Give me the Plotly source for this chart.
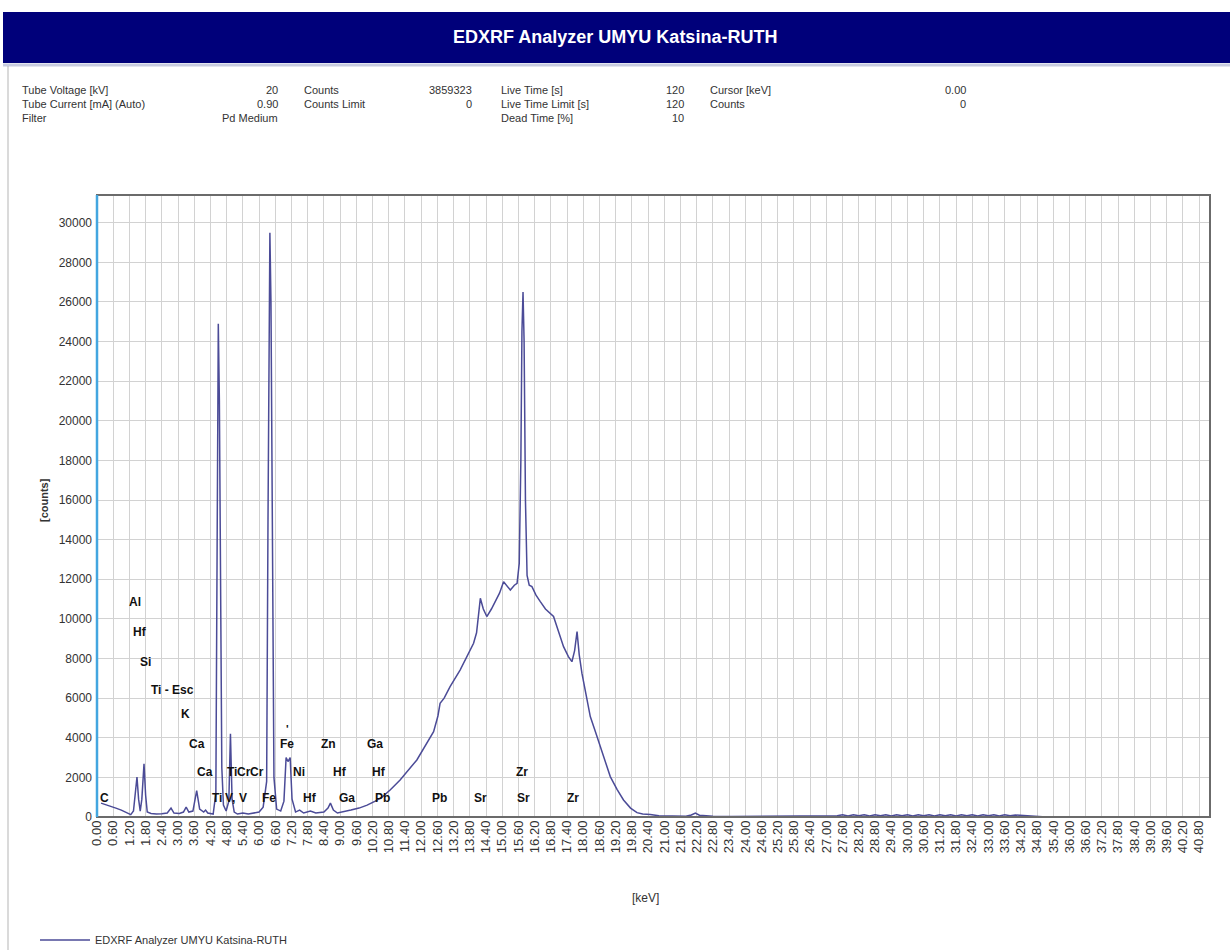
import plotly.graph_objects as go

# ---------------- data ----------------
kev = [0.15, 0.30, 0.50, 0.70, 0.90, 1.10, 1.25, 1.35, 1.42, 1.48, 1.54, 1.60, 1.66, 1.74, 1.80, 1.86,
       2.00, 2.20, 2.40, 2.60, 2.74, 2.85, 3.05, 3.20, 3.30, 3.40, 3.55, 3.69, 3.80, 3.95, 4.02, 4.10,
       4.30, 4.40, 4.45, 4.49, 4.53, 4.57, 4.62, 4.68, 4.78, 4.88, 4.94, 5.00, 5.08, 5.20, 5.40, 5.60,
       5.80, 6.00, 6.15, 6.28, 6.33, 6.37, 6.40, 6.44, 6.49, 6.55, 6.65, 6.80, 6.92, 7.00, 7.07, 7.15,
       7.22, 7.35, 7.50, 7.65, 7.90, 8.10, 8.40, 8.55, 8.64, 8.75, 8.90, 9.10, 9.40, 9.70, 10.00, 10.30,
       10.55, 10.85, 11.22, 11.84, 12.20, 12.46, 12.62, 12.70, 12.85, 13.07, 13.44, 13.70, 13.94, 14.05,
       14.19, 14.30, 14.43, 14.60, 14.80, 14.90, 15.05, 15.20, 15.30, 15.45, 15.55, 15.63, 15.69, 15.73,
       15.77, 15.81, 15.86, 15.92, 16.00, 16.10, 16.25, 16.41, 16.60, 16.90, 17.10, 17.27, 17.45, 17.58,
       17.68, 17.77, 17.85, 17.95, 18.10, 18.26, 18.45, 18.63, 18.80, 19.00, 19.25, 19.49, 19.75, 19.99,
       20.20, 20.48, 20.80, 21.20, 21.80, 22.00, 22.15, 22.30, 22.80, 23.50, 24.50, 25.50, 26.50, 27.00,
       27.40, 27.60, 27.80, 28.00, 28.20, 28.40, 28.60, 28.80, 29.00, 29.20, 29.40, 29.60, 29.80, 30.00,
       30.20, 30.40, 30.60, 30.80, 31.00, 31.20, 31.40, 31.60, 31.80, 32.00, 32.20, 32.40, 32.60, 32.80,
       33.00, 33.20, 33.40, 33.60, 33.80, 34.00, 34.50, 35.00, 36.00, 37.00, 38.00, 39.00, 40.00, 41.00]
counts = [700, 640, 560, 450, 350, 200, 120, 300, 1200, 2020, 900, 300, 900, 2680, 1100, 250,
          180, 150, 160, 200, 450, 200, 180, 250, 500, 250, 300, 1330, 400, 250, 350, 200,
          150, 1200, 14500, 24900, 21000, 12000, 2500, 600, 300, 800, 4200, 900, 250, 150, 200, 150,
          200, 250, 500, 1800, 15000, 27100, 29500, 26000, 13600, 2000, 400, 300, 800, 3000, 2800, 3000,
          900, 250, 350, 200, 300, 200, 250, 450, 700, 350, 200, 250, 350, 450, 600, 800,
          1000, 1360, 1870, 2880, 3700, 4310, 5100, 5740, 6000, 6580, 7420, 8100, 8770, 9300,
          11040, 10500, 10120, 10500, 11040, 11300, 11880, 11600, 11460, 11700, 11800, 12800, 18000, 24500,
          26500, 24000, 16000, 12200, 11700, 11630, 11200, 10870, 10500, 10120, 9300, 8600, 8100, 7840,
          8400, 9360, 8200, 7260, 6200, 5070, 4300, 3550, 2800, 2040, 1400, 860, 450, 220,
          150, 130, 60, 40, 40, 100, 200, 90, 40, 30, 30, 30, 40, 50,
          60, 110, 50, 110, 60, 110, 50, 110, 60, 110, 50, 110, 60, 110,
          50, 110, 60, 110, 50, 110, 60, 110, 50, 110, 60, 110, 50, 110,
          60, 110, 50, 110, 60, 100, 40, 10, 10, 10, 10, 10, 10, 10]

series_name = "EDXRF Analyzer UMYU Katsina-RUTH"

peak_labels = ["C", "Al", "Hf", "Si", "Ti - Esc", "K", "Ca", "Ca", "Ti", "V,", "V", "Ti", "Cr", "Cr",
               "Fe", "Fe", "Ni", "Hf", "Zn", "Hf", "Ga", "Ga", "Hf", "Pb", "Pb", "Sr", "Sr", "Zr", "Zr"]
peak_x = [0.26, 1.41, 1.59, 1.78, 2.78, 3.26, 3.70, 4.00, 4.44, 4.93, 5.41, 5.00, 5.44, 5.93,
          6.37, 7.04, 7.48, 7.89, 8.56, 9.00, 9.26, 10.30, 10.44, 10.56, 12.67, 14.19, 15.78, 15.74, 17.63]
peak_y = [960, 10860, 9340, 7830, 6410, 5200, 3690, 2270, 960, 960, 960, 2270, 2270, 2270,
          960, 3690, 2270, 960, 3690, 2270, 960, 3690, 2270, 960, 960, 960, 960, 2270, 960]

info_left_labels = ["Tube Voltage [kV]", "Tube Current [mA] (Auto)", "Filter"]
info_left_values = ["20", "0.90", "Pd Medium"]
info_c2_labels = ["Counts", "Counts Limit", ""]
info_c2_values = ["3859323", "0", ""]
info_c3_labels = ["Live Time [s]", "Live Time Limit [s]", "Dead Time [%]"]
info_c3_values = ["120", "120", "10"]
info_c4_labels = ["Cursor [keV]", "Counts", ""]
info_c4_values = ["0.00", "0", ""]

title_text = "EDXRF Analyzer UMYU Katsina-RUTH"
x_title = "[keV]"
y_title = "[counts]"

# ---------------- layout helpers ----------------
W, H = 1230, 950
L, R, T, B = 97, 1210, 195, 817
def px(x):
    return (x - L) / (R - L)
def py(y):
    return (B - y) / (B - T)

NARROW = "Liberation Sans Narrow, Arial Narrow, Liberation Sans, Arial, sans-serif"
LINE_COLOR = "#4b4b97"

fig = go.Figure()
fig.add_trace(go.Scatter(x=kev, y=counts, mode="lines", name=series_name,
                         line=dict(color=LINE_COLOR, width=1.5), showlegend=True))

annotations = []
for t, x, y in zip(peak_labels, peak_x, peak_y):
    annotations.append(dict(x=x, y=y, xref="x", yref="y", text=t, showarrow=False,
                            xanchor="center", yanchor="middle",
                            font=dict(family=NARROW, size=12, color="#111111", weight="bold")))
# small dot above upper Fe label
annotations.append(dict(x=7.07, y=4450, xref="x", yref="y", text="'", showarrow=False,
                        font=dict(family=NARROW, size=11, color="#111111", weight="bold")))

# header title
annotations.append(dict(x=px(615), y=py(37), xref="paper", yref="paper", text="<b>" + title_text + "</b>",
                        showarrow=False, xanchor="center", yanchor="middle",
                        font=dict(family=NARROW, size=18, color="white")))

info_font = dict(family=NARROW, size=11, color="#333333")
rows_y = [90, 104, 118]
cols = [(20, 280, info_left_labels, info_left_values),
        (302, 474, info_c2_labels, info_c2_values),
        (499, 686, info_c3_labels, info_c3_values),
        (708, 968, info_c4_labels, info_c4_values)]
for lx, vx, labs, vals in cols:
    for ry, lab, val in zip(rows_y, labs, vals):
        if lab:
            annotations.append(dict(x=px(lx), y=py(ry), xref="paper", yref="paper", text=lab,
                                    showarrow=False, xanchor="left", yanchor="middle", font=info_font))
        if val:
            annotations.append(dict(x=px(vx), y=py(ry), xref="paper", yref="paper", text=val,
                                    showarrow=False, xanchor="right", yanchor="middle", font=info_font))

# axis titles
annotations.append(dict(x=px(645), y=py(898), xref="paper", yref="paper", text=x_title, showarrow=False,
                        xanchor="center", yanchor="middle", font=dict(family=NARROW, size=12, color="#333")))
annotations.append(dict(x=px(44), y=py(500), xref="paper", yref="paper", text="<b>" + y_title + "</b>",
                        showarrow=False, textangle=-90, xanchor="center", yanchor="middle",
                        font=dict(family=NARROW, size=11, color="#333")))

shapes = [
    # header banner
    dict(type="rect", xref="paper", yref="paper", x0=px(3), x1=px(1232), y0=py(63), y1=py(12),
         fillcolor="#00007a", line=dict(width=0), layer="above"),
    dict(type="line", xref="paper", yref="paper", x0=px(3), x1=px(1232), y0=py(65), y1=py(65),
         line=dict(color="#c8cce0", width=3)),
    # left panel border
    dict(type="line", xref="paper", yref="paper", x0=px(8), x1=px(8), y0=py(66), y1=py(952),
         line=dict(color="#b5b5b5", width=1)),
    # plot frame
    dict(type="rect", xref="paper", yref="paper", x0=0, x1=1, y0=0, y1=1,
         line=dict(color="#6b6b6b", width=2), layer="above"),
    dict(type="line", xref="paper", yref="paper", x0=0, x1=0, y0=0, y1=1,
         line=dict(color="#43a6e0", width=2.5), layer="above"),
]

fig.update_layout(
    width=W, height=H,
    margin=dict(l=L, r=W - R, t=T, b=H - B, pad=0, autoexpand=False),
    paper_bgcolor="white", plot_bgcolor="white",
    annotations=annotations, shapes=shapes,
    showlegend=True,
    legend=dict(x=px(35), y=py(940), xanchor="left", yanchor="middle", orientation="h",
                itemwidth=50, bgcolor="rgba(0,0,0,0)",
                font=dict(family=NARROW, size=11, color="#333")),
    xaxis=dict(range=[0, 41.2], tick0=0, dtick=0.6, tickformat=".2f", tickangle=-90,
               showgrid=True, gridcolor="#d2d2d2", gridwidth=1, zeroline=False,
               showline=False, ticks="", tickfont=dict(family="Liberation Sans, Arial, sans-serif",
                                                       size=13, color="#333")),
    yaxis=dict(range=[0, 31400], tick0=0, dtick=2000, tickformat="d",
               showgrid=True, gridcolor="#d2d2d2", gridwidth=1, zeroline=False,
               showline=False, ticks="", ticklabelstandoff=4,
               tickfont=dict(family=NARROW, size=12, color="#333")),
)

fig.write_html("out.html")
